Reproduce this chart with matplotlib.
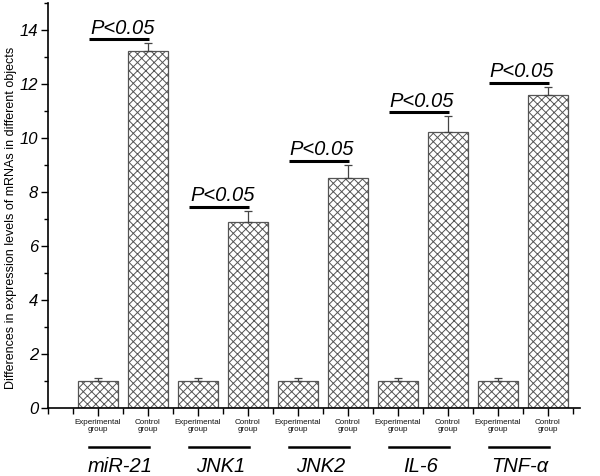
import numpy as np
import matplotlib.pyplot as plt
from matplotlib.ticker import MultipleLocator

plt.rcParams['font.family'] = ['Liberation Sans', 'DejaVu Sans']
plt.rcParams['hatch.linewidth'] = 0.7
plt.rcParams['hatch.color'] = '#555555'

# DATA
genes = ["miR-21", "JNK1", "JNK2", "IL-6", "TNF-α"]
groups = ["Experimental\ngroup", "Control\ngroup"]
exp_vals = [1.0, 1.0, 1.0, 1.0, 1.0]
exp_err = [0.1, 0.1, 0.1, 0.1, 0.1]
ctrl_vals = [13.2, 6.9, 8.5, 10.2, 11.6]
ctrl_err = [0.3, 0.4, 0.5, 0.6, 0.3]
sig_text = "P<0.05"

x_exp = np.arange(len(genes)) * 2 + 1
x_ctrl = x_exp + 1

fig = plt.figure(figsize=(6, 4.76), dpi=100)
ax = fig.add_axes([0.08, 0.143, 0.887, 0.851])

bar_kw = dict(width=0.8, color='white', edgecolor='#555555', hatch='xxxx', linewidth=0.9)
ax.bar(x_exp, exp_vals, **bar_kw)
ax.bar(x_ctrl, ctrl_vals, **bar_kw)
ax.errorbar(x_exp, exp_vals, yerr=[np.zeros(len(exp_err)), exp_err], fmt='none',
            ecolor='#444444', elinewidth=0.9, capsize=3, capthick=0.9)
ax.errorbar(x_ctrl, ctrl_vals, yerr=[np.zeros(len(ctrl_err)), ctrl_err], fmt='none',
            ecolor='#444444', elinewidth=0.9, capsize=3, capthick=0.9)

# significance bars
for xe, xc, v, e in zip(x_exp, x_ctrl, ctrl_vals, ctrl_err):
    ytop = v + e + 0.15
    ax.plot([xe - 0.18, xc + 0.02], [ytop, ytop], color='black', lw=2.2, solid_capstyle='butt')
    ax.text(xe - 0.16, ytop + 0.05, sig_text, fontsize=14.5, style='italic', ha='left', va='bottom')

ax.set_xlim(0, 10.65)
ax.set_ylim(0, 15)

ax.set_xticks(np.concatenate([x_exp, x_ctrl]))
ax.set_xticklabels([groups[0]] * len(genes) + [groups[1]] * len(genes),
                   fontsize=5.8, linespacing=0.9, color='#111111')
ax.xaxis.set_minor_locator(MultipleLocator(0.5))
ax.yaxis.set_major_locator(MultipleLocator(2))
ax.yaxis.set_minor_locator(MultipleLocator(1))
ax.tick_params(axis='x', which='major', length=6, width=1, pad=2)
ax.tick_params(axis='x', which='minor', length=4, width=1)
ax.tick_params(axis='y', which='major', length=5, width=1, labelsize=12, pad=2)
ax.tick_params(axis='y', which='minor', length=3, width=1)
for lab in ax.get_yticklabels():
    lab.set_style('italic')

for s in ['top', 'right']:
    ax.spines[s].set_visible(False)
ax.spines['left'].set_linewidth(1.2)
ax.spines['bottom'].set_linewidth(1.2)

ax.set_ylabel("Differences in expression levels of mRNAs in different objects", fontsize=9)
ax.yaxis.set_label_coords(-0.058, 0.47)

# gene labels under the axis
trans = ax.get_xaxis_transform()
for g, xe, xc in zip(genes, x_exp, x_ctrl):
    ax.plot([xe - 0.18, xc + 0.02], [-0.097, -0.097], color='black', lw=1.8,
            transform=trans, clip_on=False)
    ax.text((xe + xc) / 2 - 0.05, -0.145, g, fontsize=14.5, style='italic', ha='center', va='center',
            transform=trans)

fig.savefig("out.png", dpi=100)
